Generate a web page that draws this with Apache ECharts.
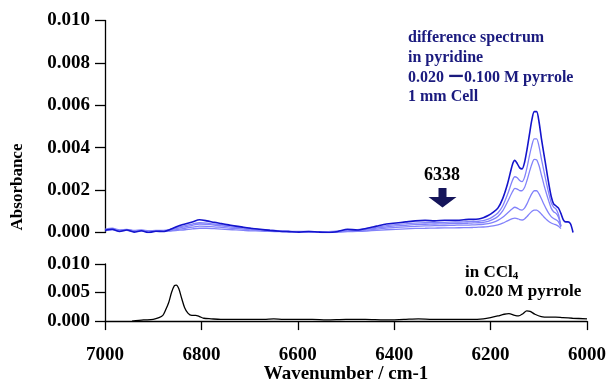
<!DOCTYPE html>
<html>
<head>
<meta charset="utf-8">
<script src="https://cdn.jsdelivr.net/npm/echarts@6/dist/echarts.min.js"></script>
<style>html,body{margin:0;padding:0;background:#fff}#c{width:609px;height:385px}</style>
</head>
<body>
<div id="c"></div>
<script>
// Top panel: difference spectra in pyridine
var wnTop = [7000,6985,6970,6955,6940,6925,6910,6895,6880,6865,6850,6835,6820,6805,6790,6775,6760,6745,6730,6715,6700,6680,6660,6640,6620,6600,6580,6560,6540,6520,6500,6480,6460,6440,6420,6400,6380,6360,6340,6320,6300,6280,6260,6250,6240,6230,6220,6210,6200,6190,6180,6170,6160,6155,6150,6145,6140,6135,6130,6125,6120,6115,6110,6105,6100,6095,6090,6085,6080,6075,6070,6065,6060,6055,6050,6045,6040,6035];
var conc100 = [0.00010,0.00015,0.00005,0.00012,0.00002,0.00008,0.00000,0.00006,0.00005,0.00015,0.00030,0.00040,0.00050,0.00060,0.00055,0.00048,0.00042,0.00036,0.00030,0.00025,0.00020,0.00015,0.00010,0.00006,0.00004,0.00002,0.00005,0.00002,0.00000,0.00005,0.00015,0.00012,0.00020,0.00030,0.00040,0.00045,0.00050,0.00055,0.00057,0.00055,0.00058,0.00057,0.00060,0.00062,0.00062,0.00064,0.00070,0.00080,0.00095,0.00115,0.00160,0.00230,0.00320,0.00340,0.00325,0.00305,0.00300,0.00330,0.00390,0.00460,0.00530,0.00570,0.00570,0.00520,0.00440,0.00370,0.00300,0.00230,0.00170,0.00135,0.00125,0.00115,0.00090,0.00060,0.00050,0.00050,0.00040,0.00000];
var conc080 = [0.00015,0.00020,0.00012,0.00015,0.00010,0.00012,0.00008,0.00010,0.00010,0.00015,0.00025,0.00032,0.00040,0.00046,0.00044,0.00040,0.00036,0.00032,0.00028,0.00024,0.00020,0.00015,0.00011,0.00008,0.00006,0.00005,0.00005,0.00004,0.00004,0.00006,0.00010,0.00013,0.00018,0.00025,0.00032,0.00037,0.00041,0.00044,0.00046,0.00047,0.00048,0.00049,0.00050,0.00051,0.00052,0.00053,0.00056,0.00063,0.00075,0.00092,0.00125,0.00180,0.00245,0.00263,0.00258,0.00245,0.00240,0.00260,0.00305,0.00360,0.00410,0.00442,0.00442,0.00405,0.00345,0.00290,0.00235,0.00185,0.00140,0.00120,0.00110,0.00085,0.00030,null,null,null,null,null];
var conc060 = [0.00012,0.00018,0.00010,0.00014,0.00008,0.00010,0.00007,0.00009,0.00008,0.00012,0.00020,0.00027,0.00034,0.00040,0.00038,0.00035,0.00031,0.00028,0.00024,0.00021,0.00017,0.00013,0.00010,0.00007,0.00005,0.00004,0.00004,0.00003,0.00003,0.00005,0.00008,0.00011,0.00015,0.00021,0.00027,0.00031,0.00034,0.00037,0.00039,0.00040,0.00041,0.00042,0.00043,0.00044,0.00045,0.00046,0.00048,0.00053,0.00062,0.00076,0.00102,0.00145,0.00192,0.00208,0.00205,0.00198,0.00197,0.00212,0.00245,0.00285,0.00322,0.00345,0.00343,0.00315,0.00270,0.00225,0.00185,0.00148,0.00115,0.00098,0.00090,0.00072,0.00030,null,null,null,null,null];
var conc040 = [0.00010,0.00015,0.00008,0.00012,0.00006,0.00009,0.00005,0.00007,0.00006,0.00009,0.00015,0.00020,0.00025,0.00030,0.00029,0.00027,0.00024,0.00021,0.00019,0.00016,0.00013,0.00010,0.00008,0.00006,0.00004,0.00003,0.00003,0.00002,0.00002,0.00003,0.00006,0.00008,0.00011,0.00016,0.00021,0.00024,0.00027,0.00029,0.00031,0.00032,0.00033,0.00034,0.00035,0.00035,0.00036,0.00037,0.00039,0.00042,0.00048,0.00057,0.00072,0.00092,0.00112,0.00119,0.00115,0.00108,0.00106,0.00115,0.00135,0.00160,0.00183,0.00197,0.00197,0.00182,0.00158,0.00133,0.00110,0.00090,0.00075,0.00066,0.00060,0.00050,0.00025,null,null,null,null,null];
var conc020 = [0.00008,0.00012,0.00007,0.00010,0.00005,0.00008,0.00004,0.00006,0.00005,0.00007,0.00010,0.00013,0.00017,0.00020,0.00020,0.00018,0.00016,0.00014,0.00012,0.00010,0.00008,0.00007,0.00005,0.00004,0.00003,0.00002,0.00002,0.00002,0.00001,0.00002,0.00004,0.00005,0.00007,0.00010,0.00013,0.00015,0.00017,0.00019,0.00020,0.00021,0.00022,0.00022,0.00023,0.00023,0.00024,0.00025,0.00026,0.00028,0.00031,0.00036,0.00044,0.00055,0.00065,0.00068,0.00066,0.00061,0.00059,0.00064,0.00075,0.00088,0.00099,0.00106,0.00106,0.00098,0.00086,0.00073,0.00062,0.00052,0.00045,0.00040,0.00036,0.00030,0.00018,null,null,null,null,null];
// Bottom panel: in CCl4, 0.020 M pyrrole
var wnBot = [6944,6920,6900,6888,6880,6875,6868,6862,6856,6852,6847,6841,6835,6828,6820,6812,6804,6795,6780,6760,6730,6700,6670,6650,6630,6600,6570,6540,6500,6460,6420,6380,6350,6320,6280,6240,6215,6200,6185,6172,6162,6150,6142,6133,6125,6118,6108,6095,6080,6065,6050,6030,6000];
var ccl4 = [0.0000,0.0002,0.0003,0.0006,0.0010,0.0018,0.0032,0.0050,0.0062,0.0063,0.0057,0.0040,0.0024,0.0014,0.0010,0.0010,0.0008,0.0005,0.0004,0.0003,0.0003,0.0003,0.0003,0.0004,0.0003,0.0003,0.0003,0.0002,0.0003,0.0003,0.0002,0.0003,0.0004,0.0003,0.0003,0.0003,0.0004,0.0006,0.0009,0.0012,0.0013,0.0010,0.0009,0.0013,0.0018,0.0017,0.0012,0.0008,0.0007,0.0007,0.0006,0.0005,0.0004];
var topTicks = [0.000,0.002,0.004,0.006,0.008,0.010];
var botTicks = [0.000,0.005,0.010];
var xTicks = [7000,6800,6600,6400,6200,6000];

function pairs(x, y){ var o=[]; for(var i=0;i<x.length;i++){ o.push([x[i], y[i]]); } return o; }

var FONT = '"Liberation Serif","Times New Roman",serif';
var lab = {color:'#000', fontFamily:FONT, fontWeight:'bold', fontSize:19};
var axisLineStyle = {color:'#000', width:1.3};

var chart = echarts.init(document.getElementById('c'), null, {renderer:'canvas'});
var light = '#8282fa', dark = '#1414cc';
function lineSeries(data, color, w, z){
  return {type:'line', xAxisIndex:0, yAxisIndex:0, data:data, showSymbol:false, smooth:0.25,
    connectNulls:false, lineStyle:{color:color, width:w}, z:z, silent:true};
}
chart.setOption({
  animation:false,
  grid:[{left:105, right:19, top:20.5, height:212},{left:105, right:19, top:264, height:60}],
  xAxis:[
    {gridIndex:0, type:'value', min:6000, max:7000, interval:200, inverse:true, show:false},
    {gridIndex:1, type:'value', min:6000, max:7000, interval:200, inverse:true,
     axisLine:{show:true, lineStyle:axisLineStyle}, axisTick:{show:true, length:9, lineStyle:axisLineStyle},
     splitLine:{show:false},
     axisLabel:Object.assign({margin:24, formatter:function(v){return xTicks.indexOf(v)>=0 ? String(v) : '';}}, lab),
     name:'Wavenumber / cm-1', nameLocation:'middle', nameGap:42, nameTextStyle:lab}
  ],
  yAxis:[
    {gridIndex:0, type:'value', min:0, max:0.010, interval:0.002,
     axisLine:{show:true, lineStyle:axisLineStyle}, axisTick:{show:true, length:10, lineStyle:axisLineStyle},
     splitLine:{show:false}, axisLabel:Object.assign({margin:15, formatter:function(v){return v.toFixed(3);}}, lab)},
    {gridIndex:1, type:'value', min:0, max:0.010, interval:0.005,
     axisLine:{show:true, lineStyle:axisLineStyle}, axisTick:{show:true, length:10, lineStyle:axisLineStyle},
     splitLine:{show:false}, axisLabel:Object.assign({margin:15, formatter:function(v){return v.toFixed(3);}}, lab)}
  ],
  series:[
    lineSeries(pairs(wnTop, conc020), light, 1.3, 2),
    lineSeries(pairs(wnTop, conc040), light, 1.3, 2),
    lineSeries(pairs(wnTop, conc060), light, 1.3, 2),
    lineSeries(pairs(wnTop, conc080), light, 1.3, 2),
    lineSeries(pairs(wnTop, conc100), dark, 1.6, 3),
    {type:'line', xAxisIndex:1, yAxisIndex:1, data:pairs(wnBot, ccl4), showSymbol:false, smooth:0.3,
     lineStyle:{color:'#000', width:1.3}, silent:true}
  ],
  graphic:[
    {type:'text', x:18, y:187, rotation:Math.PI/2, style:{text:'Absorbance', fill:'#000', font:'bold 17px '+FONT, textAlign:'center', textVerticalAlign:'middle'}},
    {type:'text', x:408, y:30, style:{text:'difference spectrum', fill:'#1a1a7e', font:'bold 16px '+FONT}},
    {type:'text', x:408, y:50, style:{text:'in pyridine', fill:'#1a1a7e', font:'bold 16px '+FONT}},
    {type:'text', x:408, y:70, style:{text:'0.020 ー0.100 M pyrrole', fill:'#1a1a7e', font:'bold 16px '+FONT}},
    {type:'text', x:408, y:89, style:{text:'1 mm Cell', fill:'#1a1a7e', font:'bold 16px '+FONT}},
    {type:'text', x:442, y:175, style:{text:'6338', fill:'#000', font:'bold 18px '+FONT, textAlign:'center', textVerticalAlign:'middle'}},
    {type:'polygon', shape:{points:[[438.5,188],[446.5,188],[446.5,197],[456.5,197],[442.5,207.5],[428.5,197],[438.5,197]]}, style:{fill:'#15155a'}},
    {type:'text', x:465, y:263, style:{rich:{a:{font:'bold 17px '+FONT, fill:'#000'}, s:{font:'bold 11px '+FONT, fill:'#000', padding:[8,0,0,0]}}, text:'{a|in CCl}{s|4}'}},
    {type:'text', x:465, y:283, style:{text:'0.020 M pyrrole', fill:'#000', font:'bold 17px '+FONT}}
  ]
});
</script>
</body>
</html>
